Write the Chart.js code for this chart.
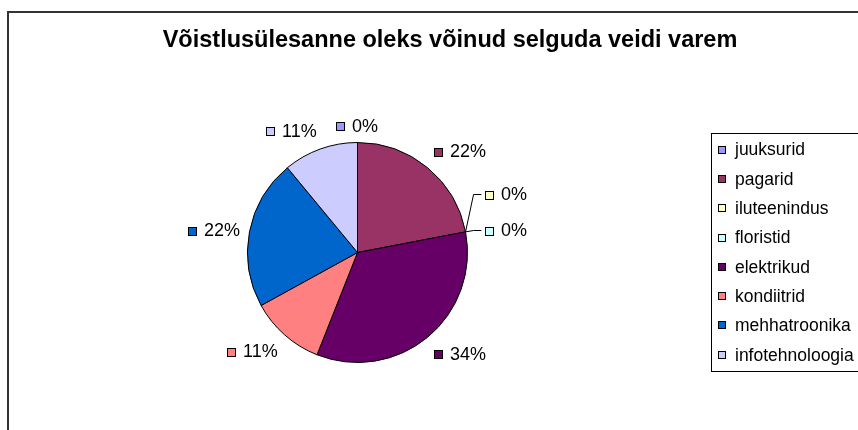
<!DOCTYPE html>
<html>
<head>
<meta charset="utf-8">
<script src="https://cdn.jsdelivr.net/npm/chart.js@4.4.0/dist/chart.umd.min.js"></script>
<style>
  html, body { margin: 0; padding: 0; background: #fff; }
  #wrap { width: 858px; height: 430px; }
</style>
</head>
<body>
<div id="wrap"><canvas id="myChart" width="858" height="430"></canvas></div>
<script>
// andmed
const chartTitle = 'Võistlusülesanne oleks võinud selguda veidi varem';
const categories = ['juuksurid', 'pagarid', 'iluteenindus', 'floristid', 'elektrikud', 'kondiitrid', 'mehhatroonika', 'infotehnoloogia'];
const shares = [0, 22, 0, 0, 34, 11, 22, 11];
const sliceColors = ['#9999FF', '#993366', '#FFFFCC', '#CCFFFF', '#660066', '#FF8080', '#0066CC', '#CCCCFF'];

const FONT = '"Liberation Sans", Arial, sans-serif';

function clamp(v, lo, hi) { return Math.max(lo, Math.min(hi, v)); }

// joonistab raami, pealkirja, sildid ja legendi
const excelLook = {
    id: 'excelLook',
    beforeDraw(chart) {
        const ctx = chart.ctx;
        ctx.save();
        ctx.fillStyle = '#fff';
        ctx.fillRect(0, 0, chart.width, chart.height);
        ctx.restore();
    },
    afterDraw(chart) {
        const ctx = chart.ctx;
        const meta = chart.getDatasetMeta(0);
        ctx.save();

        // välimine raam
        ctx.strokeStyle = '#333';
        ctx.lineWidth = 2;
        ctx.strokeRect(8, 12, 1000, 600);

        // pealkiri
        ctx.fillStyle = '#000';
        ctx.font = 'bold 23.5px ' + FONT;
        ctx.textAlign = 'center';
        ctx.textBaseline = 'middle';
        ctx.fillText(chartTitle, 450, 41);

        // protsendisildid
        ctx.font = '18px ' + FONT;
        ctx.textAlign = 'left';
        const sw = 9, gap = 7, h = 18;
        const labels = [];
        meta.data.forEach((arc, i) => {
            const p = arc.getProps(['x', 'y', 'startAngle', 'endAngle', 'outerRadius'], true);
            const mid = (p.startAngle + p.endAngle) / 2;
            const dx = Math.cos(mid), dy = Math.sin(mid);
            const R = p.outerRadius + 10;
            const px = p.x + dx * R, py = p.y + dy * R;
            const text = shares[i] + '%';
            const w = sw + gap + ctx.measureText(text).width;
            const sx = clamp(dx * 3, -1, 1);
            const sy = Math.sign(dy) * clamp((Math.abs(dy) - 0.3) / 0.4, 0, 1);
            labels.push({
                i, text, w, mid,
                ex: p.x + dx * p.outerRadius, ey: p.y + dy * p.outerRadius,
                px, py,
                left: px + sx * w / 2 - w / 2,
                cy: py + sy * h / 2 * (Math.abs(dx) < 0.05 ? 0.75 : 1),
                leader: false
            });
        });

        // nullväärtused samal nurgal: virnasta ja lisa juhtjoon
        const used = new Set();
        labels.forEach(a => {
            if (shares[a.i] !== 0 || used.has(a.i)) return;
            const group = labels.filter(b => shares[b.i] === 0 && Math.abs(b.mid - a.mid) < 1e-6);
            if (group.length < 2) return;
            group.forEach((b, j) => {
                used.add(b.i);
                b.leader = true;
                b.left = b.px + 10;
                b.cy = b.py - (group.length - 1 - j) * 36;
            });
        });

        labels.forEach(l => {
            if (l.leader) {
                ctx.strokeStyle = '#000';
                ctx.lineWidth = 1;
                ctx.beginPath();
                ctx.moveTo(l.ex, l.ey);
                ctx.lineTo(l.ex + 8, l.cy + 0.5);
                ctx.lineTo(l.left - 4, l.cy + 0.5);
                ctx.stroke();
            }
            const y0 = Math.round(l.cy - sw / 2) + 1;
            const x0 = Math.round(l.left);
            ctx.fillStyle = sliceColors[l.i];
            ctx.fillRect(x0, y0, sw, sw);
            ctx.strokeStyle = '#000';
            ctx.lineWidth = 1;
            ctx.strokeRect(x0 + 0.5, y0 + 0.5, sw - 1, sw - 1);
            ctx.fillStyle = '#000';
            ctx.textBaseline = 'middle';
            ctx.fillText(l.text, x0 + sw + gap, l.cy + 1);
        });

        // legend
        ctx.font = '17.5px ' + FONT;
        const rowH = 29.3;
        const boxH = categories.length * rowH + 4;
        const cyPie = (chart.chartArea.top + chart.chartArea.bottom) / 2;
        const boxTop = Math.round(cyPie - boxH / 2);
        const boxLeft = 711;
        let maxW = 0;
        categories.forEach(c => { maxW = Math.max(maxW, ctx.measureText(c).width); });
        ctx.strokeStyle = '#000';
        ctx.lineWidth = 1;
        ctx.strokeRect(boxLeft + 0.5, boxTop + 0.5, 24 + maxW + 12, Math.round(boxH));
        categories.forEach((c, i) => {
            const yc = boxTop + 2 + rowH * i + rowH / 2;
            const y0 = Math.round(yc - 4);
            ctx.fillStyle = sliceColors[i];
            ctx.fillRect(boxLeft + 7, y0, 8, 8);
            ctx.strokeStyle = '#000';
            ctx.strokeRect(boxLeft + 7.5, y0 + 0.5, 7, 7);
            ctx.fillStyle = '#000';
            ctx.fillText(c, boxLeft + 24, yc + 1);
        });

        ctx.restore();
    }
};

const ctx = document.getElementById('myChart').getContext('2d');
const myChart = new Chart(ctx, {
    type: 'pie',
    data: {
        labels: categories,
        datasets: [{
            data: shares,
            backgroundColor: sliceColors,
            borderColor: '#000',
            borderWidth: 1,
            hoverOffset: 0,
            offset: 0
        }]
    },
    options: {
        responsive: false,
        animation: false,
        layout: { padding: { left: 247, right: 390, top: 142, bottom: 67 } },
        plugins: {
            legend: { display: false },
            title: { display: false },
            tooltip: { enabled: false }
        },
        events: []
    },
    plugins: [excelLook]
});
</script>
</body>
</html>
